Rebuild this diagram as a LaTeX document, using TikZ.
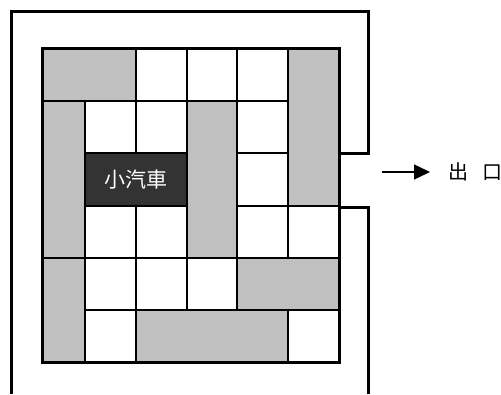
\documentclass[tikz,border=0pt]{standalone}
\usepackage{fontspec}
\newfontfamily\cjk{Noto Sans CJK TC}
\usetikzlibrary{arrows.meta}
\begin{document}
\begin{tikzpicture}[x=1pt,y=-1pt]
      \useasboundingbox (0,0) rectangle (501,394);

      % board background and grid
      \fill[white] (42,48) rectangle (339,362);
      \foreach \x in {85,136,187,237,288}
        \draw[line width=2] (\x,48) -- (\x,362);
      \foreach \y in {101,153,206,258,310}
        \draw[line width=2] (42,\y) -- (339,\y);

      \begin{scope}[every node/.style={draw, line width=2, fill={rgb,255:red,192;green,192;blue,192}, inner sep=0pt}]
        \node[minimum width=94,  minimum height=53]  (g1) at (89,74.5)    {};
        \node[minimum width=51,  minimum height=158] (g2) at (313.5,127)  {};
        \node[minimum width=43,  minimum height=157] (g3) at (63.5,179.5) {};
        \node[minimum width=50,  minimum height=157] (g4) at (212,179.5)  {};
        \node[minimum width=43,  minimum height=104] (g5) at (63.5,310)   {};
        \node[minimum width=102, minimum height=52]  (g6) at (288,284)    {};
        \node[minimum width=152, minimum height=52]  (g7) at (212,336)    {};
        \node[minimum width=102, minimum height=53, fill={rgb,255:red,51;green,51;blue,51},
              text=white, font=\cjk\fontsize{21}{21}\selectfont] (car) at (136,179.5) {小汽車};
      \end{scope}

      \node[draw, line width=3, minimum width=297, minimum height=314, inner sep=0pt] (board) at (190.5,205) {};

      % walls
      \coordinate (tl) at (11,11);
      \coordinate (bl) at (11,394);
      \coordinate (tr) at (368,11);
      \coordinate (br) at (368,394);
      \coordinate (gt) at (339,153);
      \coordinate (gb) at (339,207);
      \draw[line width=3] (bl) -- (tl) -- (tr) -- (tr |- gt) -- (gt);
      \draw[line width=3] (gb) -- (br |- gb) -- (br);

      % exit
      \node[inner xsep=0pt, anchor=west, font=\cjk\fontsize{20}{20}\selectfont] (exit) at (448,172) {出\hspace{14pt}口};
      \coordinate (tail) at (382,172);
      \draw[line width=1.5, -{Triangle[length=16pt,width=15pt]}, shorten >=18] (tail) -- (exit.west);

    \end{tikzpicture}
\end{document}
